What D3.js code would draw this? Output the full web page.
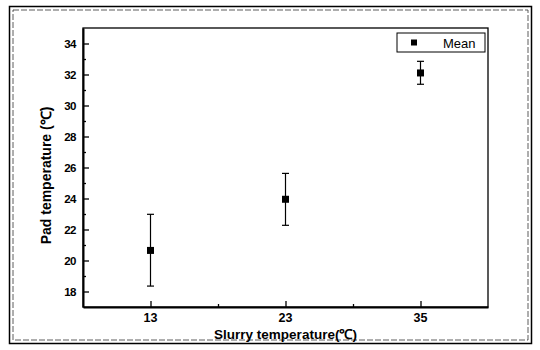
<!DOCTYPE html>
<html>
<head>
<meta charset="utf-8">
<script src="https://cdn.jsdelivr.net/npm/d3@7"></script>
<style>
  body { margin: 0; background: #fff; }
  text { font-family: "Liberation Sans", Arial, sans-serif; font-weight: bold; }
</style>
</head>
<body>
<div class="chart"></div>
<script>
// data
var categories = ["13", "23", "35"];
var means = [20.65, 23.95, 32.1];
var errUpper = [22.98, 25.62, 32.85];
var errLower = [18.35, 22.27, 31.37];
var yTicks = [18, 20, 22, 24, 26, 28, 30, 32, 34];
var yMinor = [19, 21, 23, 25, 27, 29, 31, 33];
var xMinor = [1.5, 2.5];

var width = 540, height = 350;
var plotLeft = 83, plotRight = 488, plotTop = 28, plotBottom = 307;

var svg = d3.select(".chart")
  .append("svg")
  .attr("width", width)
  .attr("height", height);

// outer double frame
svg.append("rect")
  .attr("x", 9.5).attr("y", 6.5)
  .attr("width", 522).attr("height", 337)
  .attr("fill", "none").attr("stroke", "#000").attr("stroke-width", 1.5);
svg.append("rect")
  .attr("x", 13).attr("y", 10)
  .attr("width", 515).attr("height", 330)
  .attr("fill", "none").attr("stroke", "#333").attr("stroke-width", 0.8)
  .attr("stroke-dasharray", "6,2");

var x = d3.scaleLinear()
  .domain([0.5, 3.5])
  .range([plotLeft, plotRight]);

var y = d3.scaleLinear()
  .domain([17, 35])
  .range([plotBottom, plotTop]);

// plot frame
svg.append("rect")
  .attr("x", plotLeft).attr("y", plotTop)
  .attr("width", plotRight - plotLeft).attr("height", plotBottom - plotTop)
  .attr("fill", "none").attr("stroke", "#000").attr("stroke-width", 1.3);

var yAxis = g => g
  .attr("transform", `translate(${plotLeft},0)`)
  .call(d3.axisRight(y).tickValues(yTicks).tickSize(6).tickSizeOuter(0).tickFormat(""))
  .call(g => g.select(".domain").attr("stroke-width", 2));

var yMinorAxis = g => g
  .attr("transform", `translate(${plotLeft},0)`)
  .call(d3.axisRight(y).tickValues(yMinor).tickSize(3).tickFormat(""))
  .call(g => g.select(".domain").remove());

var xAxis = g => g
  .attr("transform", `translate(0,${plotBottom})`)
  .call(d3.axisTop(x).tickValues([1, 2, 3]).tickSize(6).tickSizeOuter(0).tickFormat(""))
  .call(g => g.select(".domain").attr("stroke-width", 2));

var xMinorAxis = g => g
  .attr("transform", `translate(0,${plotBottom})`)
  .call(d3.axisTop(x).tickValues(xMinor).tickSize(3).tickFormat(""))
  .call(g => g.select(".domain").remove());

svg.append("g").call(yAxis);
svg.append("g").call(yMinorAxis);
svg.append("g").call(xAxis);
svg.append("g").call(xMinorAxis);
svg.selectAll(".tick line").attr("stroke-width", 1.3);

// tick labels
svg.selectAll(".ylab")
  .data(yTicks)
  .enter()
  .append("text")
  .attr("x", plotLeft - 7)
  .attr("y", d => y(d) + 4)
  .attr("text-anchor", "end")
  .attr("font-size", 11.5)
  .attr("letter-spacing", -0.5)
  .text(d => d);

svg.selectAll(".xlab")
  .data(categories)
  .enter()
  .append("text")
  .attr("x", (d, i) => x(i + 1))
  .attr("y", plotBottom + 15)
  .attr("text-anchor", "middle")
  .attr("font-size", 12.5)
  .text(d => d);

// axis titles
svg.append("text")
  .attr("x", x(2))
  .attr("y", 339)
  .attr("text-anchor", "middle")
  .attr("font-size", 13.5)
  .text("Slurry temperature(℃)");

svg.append("text")
  .attr("transform", `translate(51,${(plotTop + plotBottom) / 2 + 8}) rotate(-90)`)
  .attr("text-anchor", "middle")
  .attr("font-size", 14)
  .text("Pad temperature (℃)");

// error bars
var bars = svg.selectAll(".err")
  .data(means)
  .enter()
  .append("g");

bars.append("line")
  .attr("x1", (d, i) => x(i + 1)).attr("x2", (d, i) => x(i + 1))
  .attr("y1", (d, i) => y(errLower[i])).attr("y2", (d, i) => y(errUpper[i]))
  .attr("stroke", "#000").attr("stroke-width", 1.2);

bars.append("line")
  .attr("x1", (d, i) => x(i + 1) - 3.5).attr("x2", (d, i) => x(i + 1) + 3.5)
  .attr("y1", (d, i) => y(errUpper[i])).attr("y2", (d, i) => y(errUpper[i]))
  .attr("stroke", "#000").attr("stroke-width", 1.2);

bars.append("line")
  .attr("x1", (d, i) => x(i + 1) - 3.5).attr("x2", (d, i) => x(i + 1) + 3.5)
  .attr("y1", (d, i) => y(errLower[i])).attr("y2", (d, i) => y(errLower[i]))
  .attr("stroke", "#000").attr("stroke-width", 1.2);

bars.append("rect")
  .attr("x", (d, i) => x(i + 1) - 3.5)
  .attr("y", d => y(d) - 3.5)
  .attr("width", 7).attr("height", 7)
  .attr("fill", "#000");

// legend
var legend = svg.append("g").attr("transform", "translate(397,33)");
legend.append("rect")
  .attr("width", 88).attr("height", 19)
  .attr("fill", "#fff").attr("stroke", "#000").attr("stroke-width", 1);
legend.append("rect")
  .attr("x", 14).attr("y", 6.5)
  .attr("width", 6).attr("height", 6)
  .attr("fill", "#000");
legend.append("text")
  .attr("x", 46).attr("y", 14.5)
  .attr("font-size", 13)
  .style("font-weight", "normal")
  .text("Mean");
</script>
</body>
</html>
